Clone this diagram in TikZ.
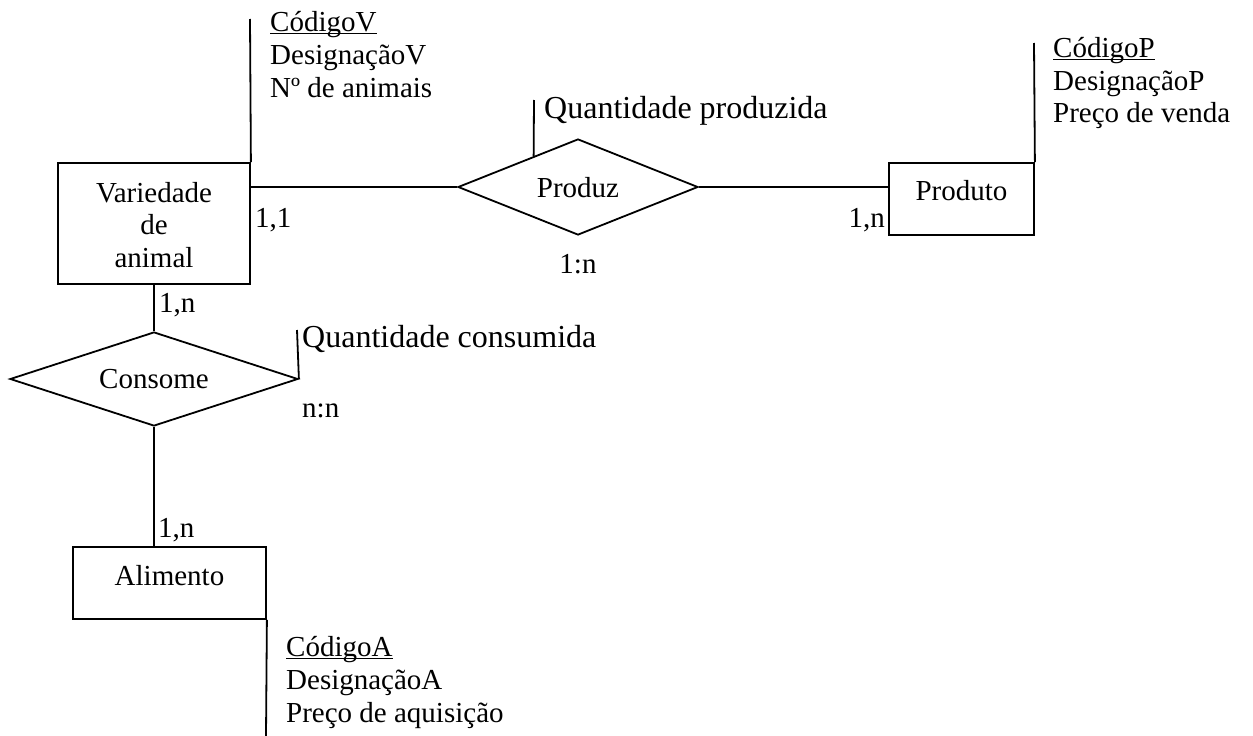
\documentclass[tikz,border=0pt]{standalone}
\usepackage{fontspec}
\setmainfont{Liberation Serif}
\usetikzlibrary{shapes.geometric,calc}
\newcommand\myul[1]{\setbox0=\hbox{#1}\rlap{\rule[-3.2pt]{\wd0}{1.4pt}}\box0}
\begin{document}
\begin{tikzpicture}[x=1pt,y=-1pt,
  every node/.style={font=\fontsize{29}{32.5}\selectfont, inner sep=0pt},
  big/.style={font=\fontsize{32}{36}\selectfont},
  entity/.style={draw, line width=1.8pt, rectangle, align=center},
  rel/.style={draw, line width=1.8pt, diamond},
  lab/.style={anchor=base west},
  conn/.style={line width=1.8pt}]
\useasboundingbox (0,0) rectangle (1253,736);

% entities
\node[entity, minimum width=192pt, minimum height=121pt] (var) at (154,223.5) {};
\node at (154,202) [anchor=base] (varA) {Variedade};
\node at (154,234) [anchor=base] (varB) {de};
\node at (154,267) [anchor=base] (varC) {animal};

\node[entity, minimum width=145pt, minimum height=72pt] (produto) at (961.5,199) {};
\node at (961.5,200) [anchor=base] (produtoT) {Produto};

\node[entity, minimum width=193pt, minimum height=72pt] (alim) at (169.5,583) {};
\node at (169.5,585) [anchor=base] (alimT) {Alimento};

% relationships
\node[rel, minimum width=240pt, minimum height=96pt] (prod) at (578,187) {};
\node at (578,197) [anchor=base] (prodT) {Produz};

\node[rel, minimum width=288pt, minimum height=94pt] (cons) at (154,379) {};
\node at (154,388) [anchor=base] (consT) {Consome};

% connectors
\draw[conn] (prod.west) -- (prod.west -| var.east);
\draw[conn] (prod.east) -- (prod.east -| produto.west);
\draw[conn] (cons.north) -- (cons.north |- var.south);
\draw[conn] (cons.south) -- (cons.south |- alim.north);

% attribute lines
\coordinate (attV) at (250,19);
\draw[conn] (var.north east) -- (attV);
\coordinate (attP) at (1034,43);
\draw[conn] (produto.north east) -- (attP);
\coordinate (attA) at (266,736);
\draw[conn] (alim.south east) -- (attA);
\coordinate (attQP) at (534,100);
\draw[conn] (attQP) -- ($(prod.west)!0.633!(prod.north)$);
\coordinate (attQC) at (297,330);
\draw[conn] (cons.east) -- (attQC);

% attribute texts
\node[lab] (v1) at (270,31) {\myul{CódigoV}};
\node[lab] (v2) at (270,64) {DesignaçãoV};
\node[lab] (v3) at (270,97) {Nº de animais};

\node[lab] (p1) at (1053,57) {\myul{CódigoP}};
\node[lab] (p2) at (1053,90) {DesignaçãoP};
\node[lab] (p3) at (1053,122) {Preço de venda};

\node[lab] (a1) at (286,656) {\myul{CódigoA}};
\node[lab] (a2) at (286,689) {DesignaçãoA};
\node[lab] (a3) at (286,722) {Preço de aquisição};

\node[lab, big] (qp) at (544,118) {Quantidade produzida};
\node[lab, big] (qc) at (302,347) {Quantidade consumida};

% cardinalities
\node[lab] (c1) at (255,227) {1,1};
\node[anchor=base east] (c2) at (885,227) {1,n};
\node[anchor=base] (c3) at (578,273) {1:n};
\node[lab] (c4) at (159,312) {1,n};
\node[lab] (c5) at (302,417) {n:n};
\node[lab] (c6) at (158,537) {1,n};
\end{tikzpicture}
\end{document}
